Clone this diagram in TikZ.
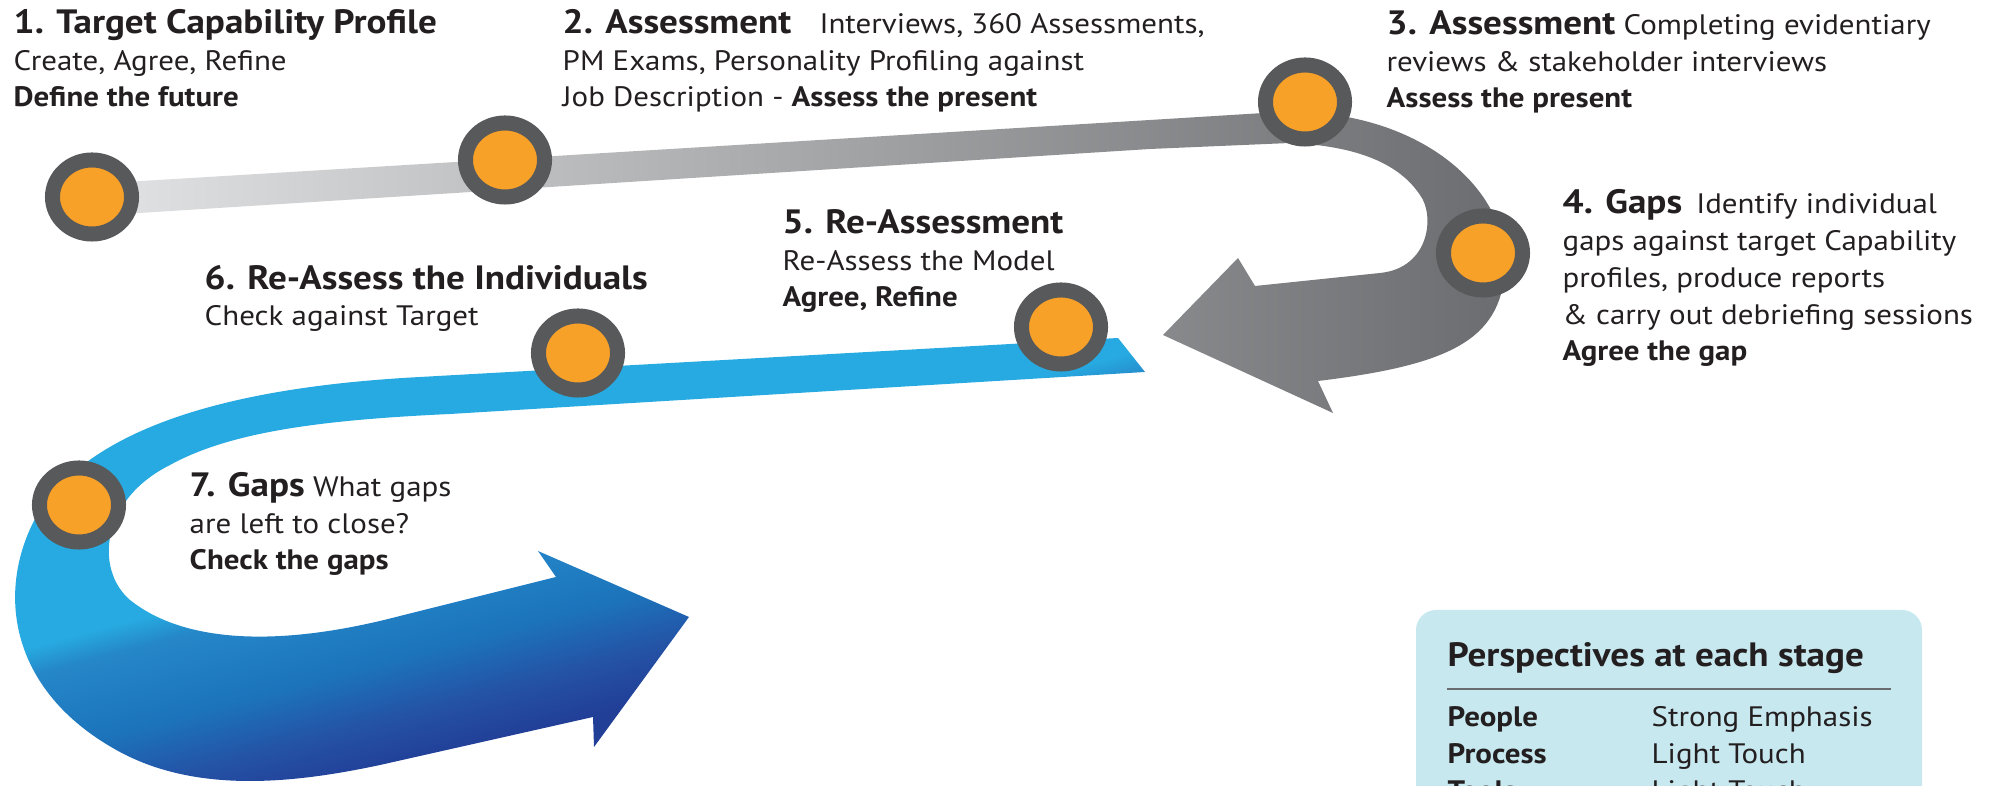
\documentclass[tikz,border=0pt]{standalone}
\usepackage{fontspec}
\setmainfont[FakeStretch=1.1]{PT Sans}
\usetikzlibrary{shapes.geometric}
\definecolor{ringgray}{HTML}{58595B}
\definecolor{dotorange}{HTML}{F8A128}
\definecolor{graylight}{HTML}{E2E3E4}
\definecolor{graydark}{HTML}{6B6C6F}
\definecolor{bluelight}{HTML}{27AAE1}
\definecolor{bluesoft}{HTML}{2586C8}
\definecolor{bluemid}{HTML}{1C74BB}
\definecolor{bluedeep}{HTML}{2453A6}
\definecolor{bluedark}{HTML}{223F98}
\definecolor{legendbg}{HTML}{C7E8EF}
\definecolor{inkc}{HTML}{231F20}
\pgfdeclareverticalshading{bluehook}{100bp}{color(0bp)=(bluedark); color(35bp)=(bluedark); color(38.5bp)=(bluedeep); color(42.5bp)=(bluemid); color(48bp)=(bluesoft); color(50bp)=(bluelight); color(100bp)=(bluelight)}
\newcommand{\hd}[1]{{\fontsize{9.6}{9}\selectfont\bfseries #1}}
\newcommand{\txtfont}{\fontsize{8}{10.5}\selectfont\lineskiplimit=-10pt\relax}

\begin{document}
\begin{tikzpicture}
    [
      x=0.01cm, y=-0.01cm,
      stage/.style = {ellipse, draw=ringgray, fill=dotorange, line width=0.15cm,
                      minimum width=0.79cm, minimum height=0.74cm, inner sep=0pt},
      txt/.style = {anchor=base west, align=left, inner sep=0pt, text=inkc, font=\txtfont},
    ]
    \path[use as bounding box, clip] (0,0) rectangle (2003,786);

    \shade[left color=graylight, right color=graydark]
      (92,184) -- (1150,120) -- (1280,112) .. controls (1420,108) and (1510,190) .. (1505,270)
      .. controls (1500,340) and (1450,365) .. (1318,381) -- (1333,413) -- (1163,335)
      -- (1238,258) -- (1255,286) -- (1380,273) .. controls (1430,268) and (1435,215) .. (1420,195)
      .. controls (1400,165) and (1360,146) .. (1290,143) -- (1150,149) -- (92,216) -- cycle;

    \begin{scope}
      \clip (1118,338) -- (420,377) .. controls (250,386) and (100,420) .. (40,510)
        .. controls (-5,585) and (5,690) .. (120,752) .. controls (200,795) and (300,782) .. (380,765)
        -- (593,717) -- (594,747) -- (689,617) -- (538,551) -- (556,577) -- (400,616)
        .. controls (270,650) and (180,640) .. (130,600) .. controls (95,570) and (100,500) .. (170,465)
        .. controls (230,432) and (320,420) .. (450,414) -- (1145,372) -- cycle;
      \shade[shading=bluehook, transform canvas={rotate around={15:(400,600)}}] (-600,200) rectangle (1600,900);
    \end{scope}

    \node[stage] (s1) at (92,197) {};
    \node[stage] (s2) at (505,160) {};
    \node[stage] (s3) at (1305,102) {};
    \node[stage] (s4) at (1483,253) {};
    \node[stage] (s5) at (1061,327) {};
    \node[stage] (s6) at (578,353) {};
    \node[stage] (s7) at (79,505) {};

    \node[txt] (t1) at (13,107) {\hd{1. Target Capability Profile}\\Create, Agree, Refine\\\textbf{Define the future}};
    \node[txt] (t2) at (562,107) {\hd{2. Assessment}\quad Interviews, 360 Assessments,\\PM Exams, Personality Profiling against\\Job Description - \textbf{Assess the present}};
    \node[txt] (t3) at (1386,108) {\hd{3. Assessment} Completing evidentiary\\reviews \& stakeholder interviews\\\textbf{Assess the present}};
    \node[txt] (t4) at (1562,361) {\hd{4. Gaps}\enspace Identify individual\\gaps against target Capability\\profiles, produce reports\\\& carry out debriefing sessions\\\textbf{Agree the gap}};
    \node[txt] (t5) at (782,307) {\hd{5. Re-Assessment}\\Re-Assess the Model\\\textbf{Agree, Refine}};
    \node[txt] (t6) at (204,326) {\hd{6. Re-Assess the Individuals}\\Check against Target};
    \node[txt] (t7) at (189,570) {\hd{7. Gaps} What gaps\\are left to close?\\\textbf{Check the gaps}};

    \fill[legendbg, rounded corners=0.2cm] (1416,610) rectangle (1922,840);
    \node[txt] (lg) at (1447,667) {\hd{Perspectives at each stage}};
    \draw[graydark, line width=0.5pt] (1447,689) -- (1891,689);
    \node[txt] (p1) at (1447,727) {\textbf{People}};
    \node[txt] (v1) at (1651,727) {Strong Emphasis};
    \node[txt] (p2) at (1447,764) {\textbf{Process}};
    \node[txt] (v2) at (1651,764) {Light Touch};
    \node[txt] (p3) at (1447,801) {\textbf{Tools}};
    \node[txt] (v3) at (1651,801) {Light Touch};
  \end{tikzpicture}
\end{document}
